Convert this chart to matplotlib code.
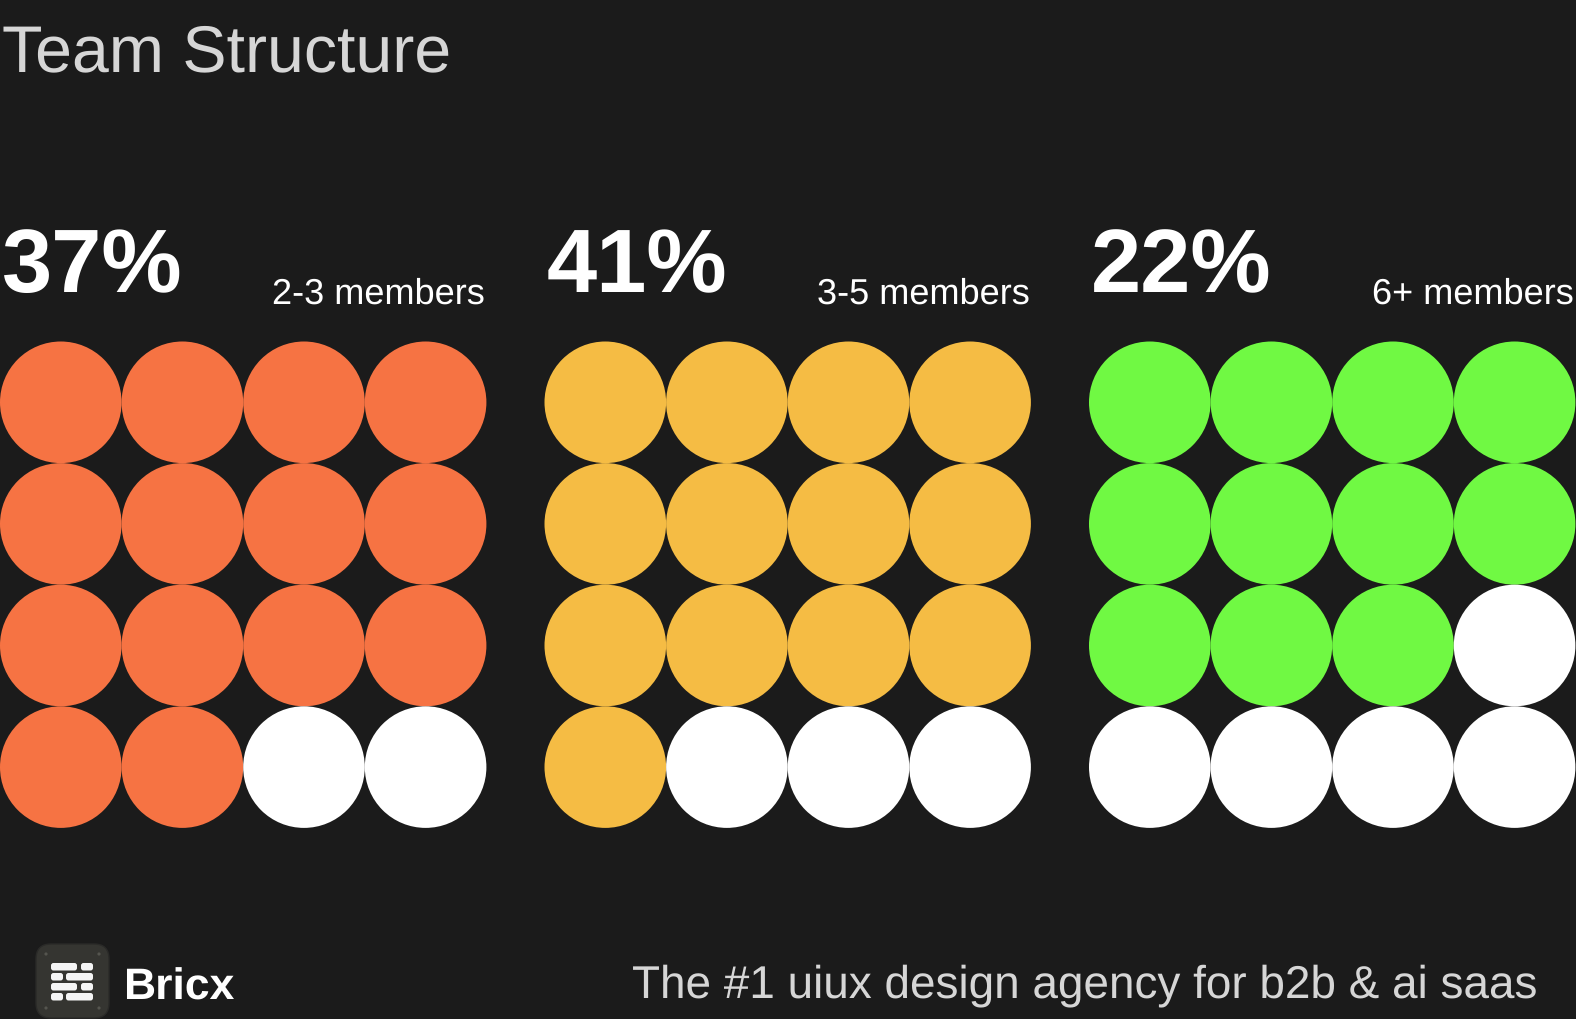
import matplotlib
matplotlib.use("Agg")
import matplotlib.pyplot as plt
from matplotlib.patches import Circle, FancyBboxPatch

title = "Team Structure"
percents = ["37%", "41%", "22%"]
members = ["2-3 members", "3-5 members", "6+ members"]
filled = [14, 13, 11]
total_dots = 16
colors = ["#F67343", "#F5BC44", "#70F943"]
footer = "The #1 uiux design agency for b2b & ai saas"
brand = "Bricx"

bg = "#1B1B1B"
plt.rcParams['font.family'] = ['Liberation Sans', 'DejaVu Sans']
plt.rcParams['text.hinting'] = 'no_hinting'
plt.rcParams['text.kerning_factor'] = 0

fig = plt.figure(figsize=(15.76, 10.19), dpi=100, facecolor=bg)
# 整张图用像素坐标
ax = fig.add_axes([0, 0, 1, 1])
ax.set_xlim(0, 1576)
ax.set_ylim(1019, 0)
ax.axis("off")

ax.text(2, 71, title, color="#D6D6D6", fontsize=47.7, va="baseline", ha="left")

# 三组圆点
group_x = [0, 544.5, 1089]
r = 60.8
top = 341.5
for g in range(3):
    x0 = group_x[g]
    for i in range(total_dots):
        row = i // 4
        col = i % 4
        c = colors[g] if i < filled[g] else "white"
        ax.add_patch(Circle((x0 + r + col * 2 * r, top + r + row * 2 * r), r, color=c, lw=0))
    ax.text(x0 + 2, 292, percents[g], color="white", fontsize=65, fontweight="bold", va="baseline", ha="left")
    ax.text(x0 + 485, 304, members[g], color="white", fontsize=26, va="baseline", ha="right")

# 页脚 logo
ax.add_patch(FancyBboxPatch((36, 944), 73, 74, boxstyle="round,pad=0,rounding_size=15", lw=1, ec="#2A2A28", fc="#353531"))
for sx, sy in [(46, 954), (99, 954), (46, 1008), (99, 1008)]:
    ax.add_patch(Circle((sx, sy), 1.6, color="#55554F", lw=0))
bricks = [(51, 963, 26), (81, 963, 12), (51, 973, 12), (66, 973, 27),
          (51, 983, 26), (81, 983, 12), (51, 993, 12), (66, 993, 27)]
for bx, by, bw in bricks:
    ax.add_patch(FancyBboxPatch((bx, by), bw, 7.5, boxstyle="round,pad=0,rounding_size=2.5", lw=0, fc="#F5F5F5"))
ax.text(123, 1000, brand, color="white", fontsize=32, fontweight="bold", va="baseline", ha="left")
ax.text(1537, 997, footer, color="#D6D6D6", fontsize=33, va="baseline", ha="right")

fig.savefig("out.png", dpi=100, facecolor=bg)
